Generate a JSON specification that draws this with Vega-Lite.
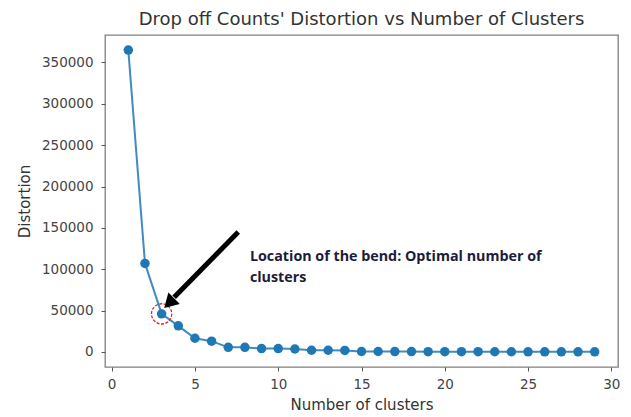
{
  "$schema": "https://vega.github.io/schema/vega-lite/v6.json",
  "width": 513,
  "height": 332,
  "autosize": {"type": "none"},
  "padding": {"left": 105, "top": 35, "right": 13, "bottom": 50},
  "background": "white",
  "config": {
    "font": "DejaVu Sans",
    "view": {"stroke": "#808080", "strokeWidth": 1.3},
    "axis": {
      "grid": false,
      "domain": false,
      "tickColor": "#555555",
      "tickSize": 4,
      "labelColor": "#444444",
      "labelFont": "DejaVu Sans",
      "labelFontSize": 13.5,
      "titleFont": "DejaVu Sans",
      "titleFontSize": 15,
      "titleFontWeight": "normal",
      "titleColor": "#333333"
    }
  },
  "title": {
    "text": "Drop off Counts' Distortion vs Number of Clusters",
    "font": "DejaVu Sans",
    "fontSize": 18,
    "fontWeight": "normal",
    "color": "#333333",
    "anchor": "middle",
    "offset": 6
  },
  "datasets": {
    "elbow": [
      {"k": 1, "distortion": 365000},
      {"k": 2, "distortion": 107000},
      {"k": 3, "distortion": 46000},
      {"k": 4, "distortion": 31500},
      {"k": 5, "distortion": 16500},
      {"k": 6, "distortion": 13000},
      {"k": 7, "distortion": 5500},
      {"k": 8, "distortion": 5500},
      {"k": 9, "distortion": 4000},
      {"k": 10, "distortion": 4000},
      {"k": 11, "distortion": 3500},
      {"k": 12, "distortion": 2000},
      {"k": 13, "distortion": 2000},
      {"k": 14, "distortion": 1800},
      {"k": 15, "distortion": 500},
      {"k": 16, "distortion": 500},
      {"k": 17, "distortion": 400},
      {"k": 18, "distortion": 400},
      {"k": 19, "distortion": 300},
      {"k": 20, "distortion": 300},
      {"k": 21, "distortion": 250},
      {"k": 22, "distortion": 250},
      {"k": 23, "distortion": 200},
      {"k": 24, "distortion": 200},
      {"k": 25, "distortion": 150},
      {"k": 26, "distortion": 150},
      {"k": 27, "distortion": 100},
      {"k": 28, "distortion": 100},
      {"k": 29, "distortion": 50}
    ],
    "arrow": [
      {"k": 7.6, "distortion": 145000, "order": 1},
      {"k": 3.75, "distortion": 66000, "order": 2}
    ],
    "arrowhead": [
      {"k": 3.55, "distortion": 61000}
    ],
    "bend": [
      {"k": 3, "distortion": 46000}
    ],
    "note": [
      {"k": 8.3, "distortion": 114200, "label": "Location of the bend: Optimal number of"},
      {"k": 8.3, "distortion": 89900, "label": "clusters"}
    ]
  },
  "layer": [
    {
      "data": {"name": "elbow"},
      "mark": {"type": "line", "color": "#1f77b4", "strokeWidth": 2, "opacity": 0.85},
      "encoding": {
        "x": {
          "field": "k", "type": "quantitative",
          "scale": {"domain": [-0.4, 30.4], "nice": false, "zero": false},
          "axis": {"values": [0, 5, 10, 15, 20, 25, 30], "title": "Number of clusters", "titlePadding": 7, "labelPadding": 6}
        },
        "y": {
          "field": "distortion", "type": "quantitative",
          "scale": {"domain": [-18250, 383250], "nice": false, "zero": false},
          "axis": {"values": [0, 50000, 100000, 150000, 200000, 250000, 300000, 350000], "format": "d", "title": "Distortion", "titlePadding": 9, "labelPadding": 8}
        }
      }
    },
    {
      "data": {"name": "elbow"},
      "mark": {"type": "point", "filled": true, "color": "#1f77b4", "size": 90, "opacity": 1},
      "encoding": {
        "x": {"field": "k", "type": "quantitative"},
        "y": {"field": "distortion", "type": "quantitative"}
      }
    },
    {
      "data": {"name": "bend"},
      "mark": {"type": "point", "filled": false, "color": "#e8202a", "strokeWidth": 1.3, "strokeDash": [3, 1.5], "size": 410, "opacity": 1},
      "encoding": {
        "x": {"field": "k", "type": "quantitative"},
        "y": {"field": "distortion", "type": "quantitative"}
      }
    },
    {
      "data": {"name": "arrow"},
      "mark": {"type": "line", "color": "black", "strokeWidth": 5},
      "encoding": {
        "x": {"field": "k", "type": "quantitative"},
        "y": {"field": "distortion", "type": "quantitative"},
        "order": {"field": "order"}
      }
    },
    {
      "data": {"name": "arrowhead"},
      "mark": {"type": "point", "shape": "triangle", "filled": true, "color": "black", "size": 260, "angle": 225, "opacity": 1},
      "encoding": {
        "x": {"field": "k", "type": "quantitative"},
        "y": {"field": "distortion", "type": "quantitative"}
      }
    },
    {
      "data": {"name": "note"},
      "mark": {"type": "text", "align": "left", "baseline": "middle", "font": "Open Sans", "fontWeight": "bold", "fontSize": 14.3, "color": "#1c1c3a"},
      "encoding": {
        "x": {"field": "k", "type": "quantitative"},
        "y": {"field": "distortion", "type": "quantitative"},
        "text": {"field": "label"}
      }
    }
  ]
}
